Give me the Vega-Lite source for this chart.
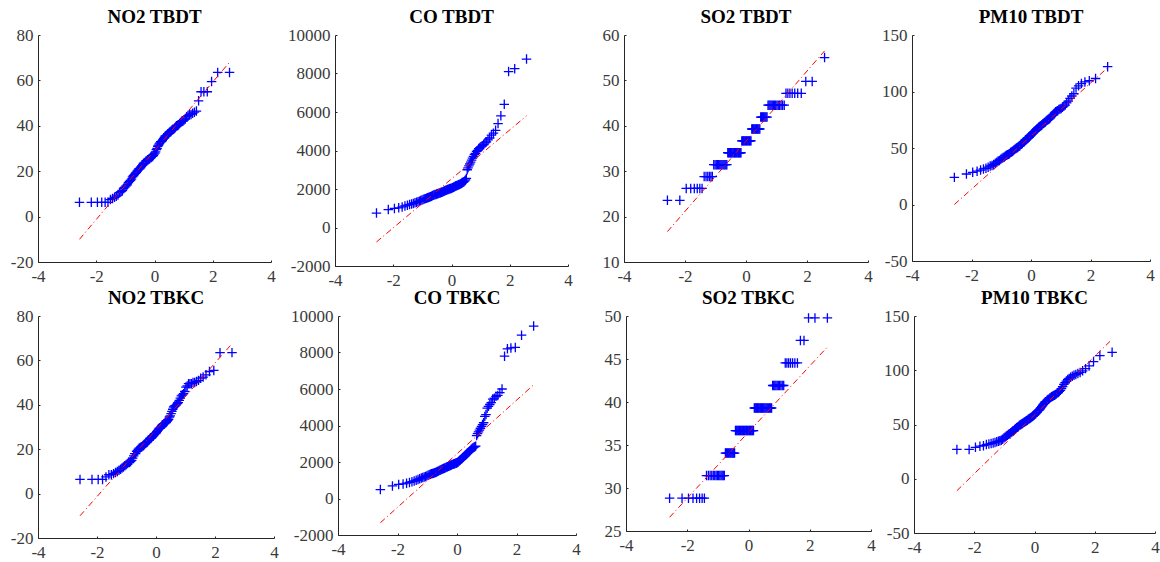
{
"$schema":"https://vega.github.io/schema/vega-lite/v6.json",
"background":"white",
"padding":{"left":0,"right":0,"top":8,"bottom":0},
"config":{
 "view":{"stroke":null},
 "font":"Liberation Serif",
 "style":{"guide-label":{"font":"Liberation Serif","fontSize":17,"fill":"#3a3a3a"}},
 "axis":{"grid":false,"domainColor":"#262626","domainWidth":1,"tickColor":"#262626","tickSize":-2,"labelFont":"Liberation Serif","labelFontSize":17,"labelColor":"#3a3a3a","labelFlush":false,"labelOverlap":false,"labelPadding":8,"title":null},
 "axisY":{"labelPadding":7},
 "title":{"font":"Liberation Serif","fontSize":19,"fontWeight":"bold","color":"#000000","frame":"group","anchor":"middle","offset":-1,"baseline":"alphabetic"}
},
"datasets":{
"NO2 TBDT":[{"x":-2.576,"y":6.3},{"x":-2.17,"y":6.3},{"x":-1.96,"y":6.3},{"x":-1.812,"y":6.3},{"x":-1.695,"y":6.3},{"x":-1.598,"y":6.3},{"x":-1.514,"y":7.5},{"x":-1.44,"y":8},{"x":-1.372,"y":8.5},{"x":-1.311,"y":9},{"x":-1.254,"y":9.5},{"x":-1.2,"y":10.5},{"x":-1.15,"y":11},{"x":-1.103,"y":11.5},{"x":-1.058,"y":12.5},{"x":-1.015,"y":13},{"x":-0.974,"y":13.5},{"x":-0.935,"y":14},{"x":-0.896,"y":15},{"x":-0.86,"y":15.5},{"x":-0.824,"y":16},{"x":-0.789,"y":16.5},{"x":-0.755,"y":17.5},{"x":-0.722,"y":18},{"x":-0.69,"y":18.5},{"x":-0.659,"y":19},{"x":-0.628,"y":19.5},{"x":-0.598,"y":20},{"x":-0.568,"y":20.5},{"x":-0.539,"y":21},{"x":-0.51,"y":21},{"x":-0.482,"y":21.5},{"x":-0.454,"y":22},{"x":-0.426,"y":22.5},{"x":-0.399,"y":23},{"x":-0.372,"y":23.5},{"x":-0.345,"y":23.5},{"x":-0.319,"y":24},{"x":-0.292,"y":24.5},{"x":-0.266,"y":24.5},{"x":-0.24,"y":25},{"x":-0.215,"y":25},{"x":-0.189,"y":25.5},{"x":-0.164,"y":25.5},{"x":-0.138,"y":26},{"x":-0.113,"y":26},{"x":-0.088,"y":26.5},{"x":-0.063,"y":26.5},{"x":-0.038,"y":27},{"x":-0.013,"y":27.5},{"x":0.013,"y":28},{"x":0.038,"y":28.5},{"x":0.063,"y":29.5},{"x":0.088,"y":30},{"x":0.113,"y":31},{"x":0.138,"y":31.5},{"x":0.164,"y":32},{"x":0.189,"y":32.5},{"x":0.215,"y":33},{"x":0.24,"y":33},{"x":0.266,"y":33.5},{"x":0.292,"y":34},{"x":0.319,"y":34.5},{"x":0.345,"y":35},{"x":0.372,"y":35.5},{"x":0.399,"y":35.5},{"x":0.426,"y":36},{"x":0.454,"y":36.5},{"x":0.482,"y":36.5},{"x":0.51,"y":37},{"x":0.539,"y":37.5},{"x":0.568,"y":37.5},{"x":0.598,"y":38},{"x":0.628,"y":38.5},{"x":0.659,"y":38.5},{"x":0.69,"y":39},{"x":0.722,"y":39.5},{"x":0.755,"y":40},{"x":0.789,"y":40},{"x":0.824,"y":40.5},{"x":0.86,"y":41},{"x":0.896,"y":41.5},{"x":0.935,"y":42},{"x":0.974,"y":42},{"x":1.015,"y":42.5},{"x":1.058,"y":43},{"x":1.103,"y":44},{"x":1.15,"y":44.5},{"x":1.2,"y":45},{"x":1.254,"y":45},{"x":1.311,"y":45.5},{"x":1.372,"y":46},{"x":1.44,"y":46.5},{"x":1.514,"y":51},{"x":1.598,"y":55},{"x":1.695,"y":55},{"x":1.812,"y":55},{"x":1.96,"y":59.5},{"x":2.17,"y":63.5},{"x":2.576,"y":63.5}],
"CO TBDT":[{"x":-2.576,"y":750},{"x":-2.17,"y":930},{"x":-1.96,"y":990},{"x":-1.812,"y":1020},{"x":-1.695,"y":1070},{"x":-1.598,"y":1120},{"x":-1.514,"y":1160},{"x":-1.44,"y":1190},{"x":-1.372,"y":1220},{"x":-1.311,"y":1250},{"x":-1.254,"y":1290},{"x":-1.2,"y":1310},{"x":-1.15,"y":1340},{"x":-1.103,"y":1370},{"x":-1.058,"y":1400},{"x":-1.015,"y":1430},{"x":-0.974,"y":1460},{"x":-0.935,"y":1480},{"x":-0.896,"y":1500},{"x":-0.86,"y":1520},{"x":-0.824,"y":1540},{"x":-0.789,"y":1560},{"x":-0.755,"y":1580},{"x":-0.722,"y":1600},{"x":-0.69,"y":1620},{"x":-0.659,"y":1650},{"x":-0.628,"y":1680},{"x":-0.598,"y":1690},{"x":-0.568,"y":1710},{"x":-0.539,"y":1720},{"x":-0.51,"y":1740},{"x":-0.482,"y":1750},{"x":-0.454,"y":1770},{"x":-0.426,"y":1780},{"x":-0.399,"y":1800},{"x":-0.372,"y":1810},{"x":-0.345,"y":1830},{"x":-0.319,"y":1850},{"x":-0.292,"y":1860},{"x":-0.266,"y":1880},{"x":-0.24,"y":1900},{"x":-0.215,"y":1920},{"x":-0.189,"y":1930},{"x":-0.164,"y":1950},{"x":-0.138,"y":1970},{"x":-0.113,"y":1980},{"x":-0.088,"y":2000},{"x":-0.063,"y":2010},{"x":-0.038,"y":2020},{"x":-0.013,"y":2030},{"x":0.013,"y":2050},{"x":0.038,"y":2070},{"x":0.063,"y":2090},{"x":0.088,"y":2110},{"x":0.113,"y":2130},{"x":0.138,"y":2150},{"x":0.164,"y":2165},{"x":0.189,"y":2180},{"x":0.215,"y":2200},{"x":0.24,"y":2215},{"x":0.266,"y":2230},{"x":0.292,"y":2250},{"x":0.319,"y":2270},{"x":0.345,"y":2300},{"x":0.372,"y":2320},{"x":0.399,"y":2350},{"x":0.426,"y":2380},{"x":0.454,"y":2420},{"x":0.482,"y":2470},{"x":0.51,"y":2550},{"x":0.539,"y":3000},{"x":0.568,"y":3100},{"x":0.598,"y":3200},{"x":0.628,"y":3300},{"x":0.659,"y":3400},{"x":0.69,"y":3500},{"x":0.722,"y":3600},{"x":0.755,"y":3700},{"x":0.789,"y":3800},{"x":0.824,"y":3850},{"x":0.86,"y":3950},{"x":0.896,"y":4000},{"x":0.935,"y":4100},{"x":0.974,"y":4150},{"x":1.015,"y":4200},{"x":1.058,"y":4250},{"x":1.103,"y":4300},{"x":1.15,"y":4400},{"x":1.2,"y":4450},{"x":1.254,"y":4550},{"x":1.311,"y":4650},{"x":1.372,"y":4800},{"x":1.44,"y":4900},{"x":1.514,"y":5050},{"x":1.598,"y":5400},{"x":1.695,"y":5800},{"x":1.812,"y":6400},{"x":1.96,"y":8100},{"x":2.17,"y":8250},{"x":2.576,"y":8750}],
"SO2 TBDT":[{"x":-2.576,"y":23.58},{"x":-2.17,"y":23.58},{"x":-1.96,"y":26.2},{"x":-1.812,"y":26.2},{"x":-1.695,"y":26.2},{"x":-1.598,"y":26.2},{"x":-1.514,"y":26.2},{"x":-1.44,"y":26.2},{"x":-1.372,"y":28.82},{"x":-1.311,"y":28.82},{"x":-1.254,"y":28.82},{"x":-1.2,"y":28.82},{"x":-1.15,"y":28.82},{"x":-1.103,"y":28.82},{"x":-1.058,"y":31.44},{"x":-1.015,"y":31.44},{"x":-0.974,"y":31.44},{"x":-0.935,"y":31.44},{"x":-0.896,"y":31.44},{"x":-0.86,"y":31.44},{"x":-0.824,"y":31.44},{"x":-0.789,"y":31.44},{"x":-0.755,"y":31.44},{"x":-0.722,"y":31.44},{"x":-0.69,"y":31.44},{"x":-0.659,"y":31.44},{"x":-0.628,"y":31.44},{"x":-0.598,"y":34.06},{"x":-0.568,"y":34.06},{"x":-0.539,"y":34.06},{"x":-0.51,"y":34.06},{"x":-0.482,"y":34.06},{"x":-0.454,"y":34.06},{"x":-0.426,"y":34.06},{"x":-0.399,"y":34.06},{"x":-0.372,"y":34.06},{"x":-0.345,"y":34.06},{"x":-0.319,"y":34.06},{"x":-0.292,"y":34.06},{"x":-0.266,"y":34.06},{"x":-0.24,"y":34.06},{"x":-0.215,"y":34.06},{"x":-0.189,"y":34.06},{"x":-0.164,"y":34.06},{"x":-0.138,"y":36.68},{"x":-0.113,"y":36.68},{"x":-0.088,"y":36.68},{"x":-0.063,"y":36.68},{"x":-0.038,"y":36.68},{"x":-0.013,"y":36.68},{"x":0.013,"y":36.68},{"x":0.038,"y":36.68},{"x":0.063,"y":36.68},{"x":0.088,"y":36.68},{"x":0.113,"y":36.68},{"x":0.138,"y":36.68},{"x":0.164,"y":36.68},{"x":0.189,"y":39.3},{"x":0.215,"y":39.3},{"x":0.24,"y":39.3},{"x":0.266,"y":39.3},{"x":0.292,"y":39.3},{"x":0.319,"y":39.3},{"x":0.345,"y":39.3},{"x":0.372,"y":39.3},{"x":0.399,"y":39.3},{"x":0.426,"y":39.3},{"x":0.454,"y":39.3},{"x":0.482,"y":41.92},{"x":0.51,"y":41.92},{"x":0.539,"y":41.92},{"x":0.568,"y":41.92},{"x":0.598,"y":41.92},{"x":0.628,"y":41.92},{"x":0.659,"y":41.92},{"x":0.69,"y":41.92},{"x":0.722,"y":44.54},{"x":0.755,"y":44.54},{"x":0.789,"y":44.54},{"x":0.824,"y":44.54},{"x":0.86,"y":44.54},{"x":0.896,"y":44.54},{"x":0.935,"y":44.54},{"x":0.974,"y":44.54},{"x":1.015,"y":44.54},{"x":1.058,"y":44.54},{"x":1.103,"y":44.54},{"x":1.15,"y":44.54},{"x":1.2,"y":44.54},{"x":1.254,"y":44.54},{"x":1.311,"y":47.16},{"x":1.372,"y":47.16},{"x":1.44,"y":47.16},{"x":1.514,"y":47.16},{"x":1.598,"y":47.16},{"x":1.695,"y":47.16},{"x":1.812,"y":47.16},{"x":1.96,"y":49.78},{"x":2.17,"y":49.78},{"x":2.576,"y":55.02}],
"PM10 TBDT":[{"x":-2.576,"y":24},{"x":-2.17,"y":27},{"x":-1.96,"y":28.5},{"x":-1.812,"y":29.5},{"x":-1.695,"y":30.5},{"x":-1.598,"y":31.5},{"x":-1.514,"y":32},{"x":-1.44,"y":33},{"x":-1.372,"y":34},{"x":-1.311,"y":34.5},{"x":-1.254,"y":35.5},{"x":-1.2,"y":36.5},{"x":-1.15,"y":37.5},{"x":-1.103,"y":38.5},{"x":-1.058,"y":39},{"x":-1.015,"y":40},{"x":-0.974,"y":41},{"x":-0.935,"y":41.5},{"x":-0.896,"y":42},{"x":-0.86,"y":43},{"x":-0.824,"y":43.5},{"x":-0.789,"y":44},{"x":-0.755,"y":44.5},{"x":-0.722,"y":45},{"x":-0.69,"y":46},{"x":-0.659,"y":46.5},{"x":-0.628,"y":47},{"x":-0.598,"y":47.5},{"x":-0.568,"y":48.5},{"x":-0.539,"y":49},{"x":-0.51,"y":49.5},{"x":-0.482,"y":50},{"x":-0.454,"y":50.5},{"x":-0.426,"y":51},{"x":-0.399,"y":51.5},{"x":-0.372,"y":52},{"x":-0.345,"y":53},{"x":-0.319,"y":53.5},{"x":-0.292,"y":54},{"x":-0.266,"y":55},{"x":-0.24,"y":55.5},{"x":-0.215,"y":56},{"x":-0.189,"y":57},{"x":-0.164,"y":57.5},{"x":-0.138,"y":58},{"x":-0.113,"y":58.5},{"x":-0.088,"y":59},{"x":-0.063,"y":59.5},{"x":-0.038,"y":60.5},{"x":-0.013,"y":61},{"x":0.013,"y":62},{"x":0.038,"y":62.5},{"x":0.063,"y":63.5},{"x":0.088,"y":64},{"x":0.113,"y":64.5},{"x":0.138,"y":65},{"x":0.164,"y":66},{"x":0.189,"y":66.5},{"x":0.215,"y":67},{"x":0.24,"y":68},{"x":0.266,"y":68.5},{"x":0.292,"y":69},{"x":0.319,"y":69.5},{"x":0.345,"y":70},{"x":0.372,"y":70.5},{"x":0.399,"y":71.5},{"x":0.426,"y":72},{"x":0.454,"y":72.5},{"x":0.482,"y":73},{"x":0.51,"y":74},{"x":0.539,"y":74.5},{"x":0.568,"y":75},{"x":0.598,"y":75.5},{"x":0.628,"y":76},{"x":0.659,"y":77},{"x":0.69,"y":78},{"x":0.722,"y":79},{"x":0.755,"y":80},{"x":0.789,"y":81},{"x":0.824,"y":82},{"x":0.86,"y":82.5},{"x":0.896,"y":83},{"x":0.935,"y":84},{"x":0.974,"y":84.5},{"x":1.015,"y":85},{"x":1.058,"y":86},{"x":1.103,"y":87},{"x":1.15,"y":88},{"x":1.2,"y":90},{"x":1.254,"y":91.5},{"x":1.311,"y":94},{"x":1.372,"y":96},{"x":1.44,"y":98},{"x":1.514,"y":103},{"x":1.598,"y":105},{"x":1.695,"y":107},{"x":1.812,"y":108.5},{"x":1.96,"y":109.5},{"x":2.17,"y":111.5},{"x":2.576,"y":122}],
"NO2 TBKC":[{"x":-2.576,"y":6.4},{"x":-2.17,"y":6.4},{"x":-1.96,"y":6.4},{"x":-1.812,"y":6.4},{"x":-1.695,"y":7.5},{"x":-1.598,"y":8.5},{"x":-1.514,"y":8.5},{"x":-1.44,"y":9},{"x":-1.372,"y":9.5},{"x":-1.311,"y":10},{"x":-1.254,"y":10.5},{"x":-1.2,"y":11},{"x":-1.15,"y":11.5},{"x":-1.103,"y":12},{"x":-1.058,"y":12.5},{"x":-1.015,"y":13},{"x":-0.974,"y":13.5},{"x":-0.935,"y":14},{"x":-0.896,"y":14},{"x":-0.86,"y":14.5},{"x":-0.824,"y":15},{"x":-0.789,"y":16},{"x":-0.755,"y":17},{"x":-0.722,"y":18},{"x":-0.69,"y":18},{"x":-0.659,"y":19},{"x":-0.628,"y":19.5},{"x":-0.598,"y":20},{"x":-0.568,"y":20.5},{"x":-0.539,"y":20.5},{"x":-0.51,"y":21},{"x":-0.482,"y":21},{"x":-0.454,"y":21.5},{"x":-0.426,"y":21.5},{"x":-0.399,"y":22},{"x":-0.372,"y":22.5},{"x":-0.345,"y":23},{"x":-0.319,"y":23},{"x":-0.292,"y":23.5},{"x":-0.266,"y":24},{"x":-0.24,"y":24},{"x":-0.215,"y":24.5},{"x":-0.189,"y":25},{"x":-0.164,"y":25},{"x":-0.138,"y":25.5},{"x":-0.113,"y":26},{"x":-0.088,"y":26},{"x":-0.063,"y":26.5},{"x":-0.038,"y":27},{"x":-0.013,"y":27},{"x":0.013,"y":27.5},{"x":0.038,"y":28},{"x":0.063,"y":28.5},{"x":0.088,"y":29},{"x":0.113,"y":29.5},{"x":0.138,"y":29.5},{"x":0.164,"y":30},{"x":0.189,"y":30.5},{"x":0.215,"y":31},{"x":0.24,"y":31},{"x":0.266,"y":31.5},{"x":0.292,"y":31.5},{"x":0.319,"y":32},{"x":0.345,"y":32},{"x":0.372,"y":32.5},{"x":0.399,"y":33},{"x":0.426,"y":33.5},{"x":0.454,"y":34.5},{"x":0.482,"y":35},{"x":0.51,"y":36},{"x":0.539,"y":37},{"x":0.568,"y":38},{"x":0.598,"y":39},{"x":0.628,"y":39.5},{"x":0.659,"y":39.5},{"x":0.69,"y":40},{"x":0.722,"y":40.5},{"x":0.755,"y":41},{"x":0.789,"y":42},{"x":0.824,"y":43},{"x":0.86,"y":44},{"x":0.896,"y":44.5},{"x":0.935,"y":45},{"x":0.974,"y":46},{"x":1.015,"y":48},{"x":1.058,"y":48.5},{"x":1.103,"y":49.5},{"x":1.15,"y":49.5},{"x":1.2,"y":49.5},{"x":1.254,"y":50},{"x":1.311,"y":50},{"x":1.372,"y":50.5},{"x":1.44,"y":51},{"x":1.514,"y":52},{"x":1.598,"y":52.5},{"x":1.695,"y":53.5},{"x":1.812,"y":55},{"x":1.96,"y":55.5},{"x":2.17,"y":63.5},{"x":2.576,"y":63.5}],
"CO TBKC":[{"x":-2.576,"y":490},{"x":-2.17,"y":690},{"x":-1.96,"y":770},{"x":-1.812,"y":800},{"x":-1.695,"y":840},{"x":-1.598,"y":880},{"x":-1.514,"y":920},{"x":-1.44,"y":960},{"x":-1.372,"y":1000},{"x":-1.311,"y":1040},{"x":-1.254,"y":1080},{"x":-1.2,"y":1120},{"x":-1.15,"y":1150},{"x":-1.103,"y":1180},{"x":-1.058,"y":1210},{"x":-1.015,"y":1240},{"x":-0.974,"y":1270},{"x":-0.935,"y":1300},{"x":-0.896,"y":1330},{"x":-0.86,"y":1350},{"x":-0.824,"y":1370},{"x":-0.789,"y":1390},{"x":-0.755,"y":1410},{"x":-0.722,"y":1430},{"x":-0.69,"y":1450},{"x":-0.659,"y":1480},{"x":-0.628,"y":1500},{"x":-0.598,"y":1530},{"x":-0.568,"y":1550},{"x":-0.539,"y":1580},{"x":-0.51,"y":1600},{"x":-0.482,"y":1620},{"x":-0.454,"y":1640},{"x":-0.426,"y":1660},{"x":-0.399,"y":1680},{"x":-0.372,"y":1700},{"x":-0.345,"y":1720},{"x":-0.319,"y":1740},{"x":-0.292,"y":1760},{"x":-0.266,"y":1780},{"x":-0.24,"y":1800},{"x":-0.215,"y":1820},{"x":-0.189,"y":1840},{"x":-0.164,"y":1860},{"x":-0.138,"y":1870},{"x":-0.113,"y":1890},{"x":-0.088,"y":1900},{"x":-0.063,"y":1920},{"x":-0.038,"y":1940},{"x":-0.013,"y":1950},{"x":0.013,"y":1970},{"x":0.038,"y":2000},{"x":0.063,"y":2040},{"x":0.088,"y":2080},{"x":0.113,"y":2110},{"x":0.138,"y":2150},{"x":0.164,"y":2190},{"x":0.189,"y":2230},{"x":0.215,"y":2270},{"x":0.24,"y":2310},{"x":0.266,"y":2350},{"x":0.292,"y":2390},{"x":0.319,"y":2430},{"x":0.345,"y":2470},{"x":0.372,"y":2510},{"x":0.399,"y":2550},{"x":0.426,"y":2600},{"x":0.454,"y":2650},{"x":0.482,"y":2700},{"x":0.51,"y":2740},{"x":0.539,"y":2780},{"x":0.568,"y":2810},{"x":0.598,"y":2840},{"x":0.628,"y":2870},{"x":0.659,"y":3450},{"x":0.69,"y":3550},{"x":0.722,"y":3650},{"x":0.755,"y":3750},{"x":0.789,"y":3850},{"x":0.824,"y":3950},{"x":0.86,"y":4050},{"x":0.896,"y":4150},{"x":0.935,"y":4500},{"x":0.974,"y":4600},{"x":1.015,"y":4950},{"x":1.058,"y":5050},{"x":1.103,"y":5150},{"x":1.15,"y":5250},{"x":1.2,"y":5450},{"x":1.254,"y":5500},{"x":1.311,"y":5600},{"x":1.372,"y":5650},{"x":1.44,"y":5800},{"x":1.514,"y":6000},{"x":1.598,"y":7800},{"x":1.695,"y":8200},{"x":1.812,"y":8250},{"x":1.96,"y":8280},{"x":2.17,"y":8950},{"x":2.576,"y":9450}],
"SO2 TBKC":[{"x":-2.576,"y":28.82},{"x":-2.17,"y":28.82},{"x":-1.96,"y":28.82},{"x":-1.812,"y":28.82},{"x":-1.695,"y":28.82},{"x":-1.598,"y":28.82},{"x":-1.514,"y":28.82},{"x":-1.44,"y":28.82},{"x":-1.372,"y":31.44},{"x":-1.311,"y":31.44},{"x":-1.254,"y":31.44},{"x":-1.2,"y":31.44},{"x":-1.15,"y":31.44},{"x":-1.103,"y":31.44},{"x":-1.058,"y":31.44},{"x":-1.015,"y":31.44},{"x":-0.974,"y":31.44},{"x":-0.935,"y":31.44},{"x":-0.896,"y":31.44},{"x":-0.86,"y":31.44},{"x":-0.824,"y":31.44},{"x":-0.789,"y":31.44},{"x":-0.755,"y":34.06},{"x":-0.722,"y":34.06},{"x":-0.69,"y":34.06},{"x":-0.659,"y":34.06},{"x":-0.628,"y":34.06},{"x":-0.598,"y":34.06},{"x":-0.568,"y":34.06},{"x":-0.539,"y":34.06},{"x":-0.51,"y":34.06},{"x":-0.482,"y":34.06},{"x":-0.454,"y":34.06},{"x":-0.426,"y":36.68},{"x":-0.399,"y":36.68},{"x":-0.372,"y":36.68},{"x":-0.345,"y":36.68},{"x":-0.319,"y":36.68},{"x":-0.292,"y":36.68},{"x":-0.266,"y":36.68},{"x":-0.24,"y":36.68},{"x":-0.215,"y":36.68},{"x":-0.189,"y":36.68},{"x":-0.164,"y":36.68},{"x":-0.138,"y":36.68},{"x":-0.113,"y":36.68},{"x":-0.088,"y":36.68},{"x":-0.063,"y":36.68},{"x":-0.038,"y":36.68},{"x":-0.013,"y":36.68},{"x":0.013,"y":36.68},{"x":0.038,"y":36.68},{"x":0.063,"y":36.68},{"x":0.088,"y":36.68},{"x":0.113,"y":36.68},{"x":0.138,"y":36.68},{"x":0.164,"y":36.68},{"x":0.189,"y":39.3},{"x":0.215,"y":39.3},{"x":0.24,"y":39.3},{"x":0.266,"y":39.3},{"x":0.292,"y":39.3},{"x":0.319,"y":39.3},{"x":0.345,"y":39.3},{"x":0.372,"y":39.3},{"x":0.399,"y":39.3},{"x":0.426,"y":39.3},{"x":0.454,"y":39.3},{"x":0.482,"y":39.3},{"x":0.51,"y":39.3},{"x":0.539,"y":39.3},{"x":0.568,"y":39.3},{"x":0.598,"y":39.3},{"x":0.628,"y":39.3},{"x":0.659,"y":39.3},{"x":0.69,"y":39.3},{"x":0.722,"y":39.3},{"x":0.755,"y":39.3},{"x":0.789,"y":41.92},{"x":0.824,"y":41.92},{"x":0.86,"y":41.92},{"x":0.896,"y":41.92},{"x":0.935,"y":41.92},{"x":0.974,"y":41.92},{"x":1.015,"y":41.92},{"x":1.058,"y":41.92},{"x":1.103,"y":41.92},{"x":1.15,"y":41.92},{"x":1.2,"y":44.54},{"x":1.254,"y":44.54},{"x":1.311,"y":44.54},{"x":1.372,"y":44.54},{"x":1.44,"y":44.54},{"x":1.514,"y":44.54},{"x":1.598,"y":44.54},{"x":1.695,"y":47.16},{"x":1.812,"y":47.16},{"x":1.96,"y":49.78},{"x":2.17,"y":49.78},{"x":2.576,"y":49.78}],
"PM10 TBKC":[{"x":-2.576,"y":27},{"x":-2.17,"y":27},{"x":-1.96,"y":29},{"x":-1.812,"y":30},{"x":-1.695,"y":30.5},{"x":-1.598,"y":31.5},{"x":-1.514,"y":32},{"x":-1.44,"y":32.5},{"x":-1.372,"y":33},{"x":-1.311,"y":33.5},{"x":-1.254,"y":34},{"x":-1.2,"y":34.5},{"x":-1.15,"y":35},{"x":-1.103,"y":35.5},{"x":-1.058,"y":36.5},{"x":-1.015,"y":37.5},{"x":-0.974,"y":38.5},{"x":-0.935,"y":39.5},{"x":-0.896,"y":40},{"x":-0.86,"y":41},{"x":-0.824,"y":41.5},{"x":-0.789,"y":42.5},{"x":-0.755,"y":43},{"x":-0.722,"y":44},{"x":-0.69,"y":44.5},{"x":-0.659,"y":45.5},{"x":-0.628,"y":46},{"x":-0.598,"y":47},{"x":-0.568,"y":47.5},{"x":-0.539,"y":48},{"x":-0.51,"y":49},{"x":-0.482,"y":49.5},{"x":-0.454,"y":50},{"x":-0.426,"y":50.5},{"x":-0.399,"y":51},{"x":-0.372,"y":51.5},{"x":-0.345,"y":52},{"x":-0.319,"y":52.5},{"x":-0.292,"y":53},{"x":-0.266,"y":53.5},{"x":-0.24,"y":54},{"x":-0.215,"y":54.5},{"x":-0.189,"y":55},{"x":-0.164,"y":55.5},{"x":-0.138,"y":56},{"x":-0.113,"y":56.5},{"x":-0.088,"y":57},{"x":-0.063,"y":57.5},{"x":-0.038,"y":58},{"x":-0.013,"y":58.5},{"x":0.013,"y":59.5},{"x":0.038,"y":60},{"x":0.063,"y":61},{"x":0.088,"y":61.5},{"x":0.113,"y":62.5},{"x":0.138,"y":63},{"x":0.164,"y":63.5},{"x":0.189,"y":64.5},{"x":0.215,"y":65.5},{"x":0.24,"y":66.5},{"x":0.266,"y":67.5},{"x":0.292,"y":68.5},{"x":0.319,"y":69.5},{"x":0.345,"y":70.5},{"x":0.372,"y":71},{"x":0.399,"y":71.5},{"x":0.426,"y":72.5},{"x":0.454,"y":73},{"x":0.482,"y":73.5},{"x":0.51,"y":74.5},{"x":0.539,"y":75},{"x":0.568,"y":75.5},{"x":0.598,"y":76},{"x":0.628,"y":76.5},{"x":0.659,"y":77},{"x":0.69,"y":77.5},{"x":0.722,"y":78},{"x":0.755,"y":79},{"x":0.789,"y":79.5},{"x":0.824,"y":80.5},{"x":0.86,"y":81.5},{"x":0.896,"y":83},{"x":0.935,"y":85},{"x":0.974,"y":87},{"x":1.015,"y":88.5},{"x":1.058,"y":90},{"x":1.103,"y":91.5},{"x":1.15,"y":92.5},{"x":1.2,"y":93.5},{"x":1.254,"y":94.5},{"x":1.311,"y":95.5},{"x":1.372,"y":96},{"x":1.44,"y":97},{"x":1.514,"y":98},{"x":1.598,"y":99.5},{"x":1.695,"y":101.5},{"x":1.812,"y":104},{"x":1.96,"y":108},{"x":2.17,"y":113.5},{"x":2.576,"y":116.5}],
"ref":[{"p":"NO2 TBDT","x":-2.576,"y":-10},{"p":"NO2 TBDT","x":2.576,"y":68},{"p":"CO TBDT","x":-2.576,"y":-750},{"p":"CO TBDT","x":2.576,"y":5800},{"p":"SO2 TBDT","x":-2.576,"y":16.7},{"p":"SO2 TBDT","x":2.576,"y":56.5},{"p":"PM10 TBDT","x":-2.576,"y":0},{"p":"PM10 TBDT","x":2.576,"y":121},{"p":"NO2 TBKC","x":-2.576,"y":-10},{"p":"NO2 TBKC","x":2.576,"y":67.5},{"p":"CO TBKC","x":-2.576,"y":-1330},{"p":"CO TBKC","x":2.576,"y":6230},{"p":"SO2 TBKC","x":-2.576,"y":26.6},{"p":"SO2 TBKC","x":2.576,"y":46.4},{"p":"PM10 TBKC","x":-2.576,"y":-11},{"p":"PM10 TBKC","x":2.576,"y":128.5}]
},
"spacing":1,
"vconcat":[
{"spacing":0,"hconcat":[
 {"title":"NO2 TBDT","width":233,"height":227,
  "encoding":{"x":{"field":"x","type":"quantitative","scale":{"domain":[-4,4],"nice":false},"axis":{"values":[-4,-2,0,2,4],"title":null,"labelExpr":"''+datum.value","labelFont":"Liberation Serif","labelFontSize":17}},"y":{"field":"y","type":"quantitative","scale":{"domain":[-20,80],"nice":false,"zero":false},"axis":{"values":[-20,0,20,40,60,80],"title":null,"labelExpr":"''+datum.value","labelFont":"Liberation Serif","labelFontSize":17,"minExtent":38,"maxExtent":38}}},
  "layer":[
   {"data":{"name":"NO2 TBDT"},"mark":{"type":"point","shape":"M-1,0H1M0,-1V1","filled":false,"color":"#0000ff","strokeWidth":1.3,"size":90,"opacity":1}},
   {"data":{"name":"ref"},"transform":[{"filter":"datum.p === 'NO2 TBDT'"}],"mark":{"type":"line","color":"#ff0000","strokeWidth":1,"strokeDash":[6,3,1,3]},"encoding":{}}
  ]},
 {"title":"CO TBDT","width":233,"height":231,
  "encoding":{"x":{"field":"x","type":"quantitative","scale":{"domain":[-4,4],"nice":false},"axis":{"values":[-4,-2,0,2,4],"title":null,"labelExpr":"''+datum.value","labelFont":"Liberation Serif","labelFontSize":17}},"y":{"field":"y","type":"quantitative","scale":{"domain":[-2000,10000],"nice":false,"zero":false},"axis":{"values":[-2000,0,2000,4000,6000,8000,10000],"title":null,"labelExpr":"''+datum.value","labelFont":"Liberation Serif","labelFontSize":17,"minExtent":58.75,"maxExtent":58.75}}},
  "layer":[
   {"data":{"name":"CO TBDT"},"mark":{"type":"point","shape":"M-1,0H1M0,-1V1","filled":false,"color":"#0000ff","strokeWidth":1.3,"size":90,"opacity":1}},
   {"data":{"name":"ref"},"transform":[{"filter":"datum.p === 'CO TBDT'"}],"mark":{"type":"line","color":"#ff0000","strokeWidth":1,"strokeDash":[6,3,1,3]},"encoding":{}}
  ]},
 {"title":"SO2 TBDT","width":244,"height":227,
  "encoding":{"x":{"field":"x","type":"quantitative","scale":{"domain":[-4,4],"nice":false},"axis":{"values":[-4,-2,0,2,4],"title":null,"labelExpr":"''+datum.value","labelFont":"Liberation Serif","labelFontSize":17}},"y":{"field":"y","type":"quantitative","scale":{"domain":[10,60],"nice":false,"zero":false},"axis":{"values":[10,20,30,40,50,60],"title":null,"labelExpr":"''+datum.value","labelFont":"Liberation Serif","labelFontSize":17,"minExtent":50.75,"maxExtent":50.75}}},
  "layer":[
   {"data":{"name":"SO2 TBDT"},"mark":{"type":"point","shape":"M-1,0H1M0,-1V1","filled":false,"color":"#0000ff","strokeWidth":1.3,"size":90,"opacity":1}},
   {"data":{"name":"ref"},"transform":[{"filter":"datum.p === 'SO2 TBDT'"}],"mark":{"type":"line","color":"#ff0000","strokeWidth":1,"strokeDash":[6,3,1,3]},"encoding":{}}
  ]},
 {"title":"PM10 TBDT","width":238,"height":226,
  "encoding":{"x":{"field":"x","type":"quantitative","scale":{"domain":[-4,4],"nice":false},"axis":{"values":[-4,-2,0,2,4],"title":null,"labelExpr":"''+datum.value","labelFont":"Liberation Serif","labelFontSize":17}},"y":{"field":"y","type":"quantitative","scale":{"domain":[-50,150],"nice":false,"zero":false},"axis":{"values":[-50,0,50,100,150],"title":null,"labelExpr":"''+datum.value","labelFont":"Liberation Serif","labelFontSize":17,"minExtent":38.75,"maxExtent":38.75}}},
  "layer":[
   {"data":{"name":"PM10 TBDT"},"mark":{"type":"point","shape":"M-1,0H1M0,-1V1","filled":false,"color":"#0000ff","strokeWidth":1.3,"size":90,"opacity":1}},
   {"data":{"name":"ref"},"transform":[{"filter":"datum.p === 'PM10 TBDT'"}],"mark":{"type":"line","color":"#ff0000","strokeWidth":1,"strokeDash":[6,3,1,3]},"encoding":{}}
  ]}
]},
{"spacing":0,"hconcat":[
 {"title":"NO2 TBKC","width":236,"height":222,
  "encoding":{"x":{"field":"x","type":"quantitative","scale":{"domain":[-4,4],"nice":false},"axis":{"values":[-4,-2,0,2,4],"title":null,"labelExpr":"''+datum.value","labelFont":"Liberation Serif","labelFontSize":17}},"y":{"field":"y","type":"quantitative","scale":{"domain":[-20,80],"nice":false,"zero":false},"axis":{"values":[-20,0,20,40,60,80],"title":null,"labelExpr":"''+datum.value","labelFont":"Liberation Serif","labelFontSize":17,"minExtent":36,"maxExtent":36}}},
  "layer":[
   {"data":{"name":"NO2 TBKC"},"mark":{"type":"point","shape":"M-1,0H1M0,-1V1","filled":false,"color":"#0000ff","strokeWidth":1.3,"size":90,"opacity":1}},
   {"data":{"name":"ref"},"transform":[{"filter":"datum.p === 'NO2 TBKC'"}],"mark":{"type":"line","color":"#ff0000","strokeWidth":1,"strokeDash":[6,3,1,3]},"encoding":{}}
  ]},
 {"title":"CO TBKC","width":238,"height":219,
  "encoding":{"x":{"field":"x","type":"quantitative","scale":{"domain":[-4,4],"nice":false},"axis":{"values":[-4,-2,0,2,4],"title":null,"labelExpr":"''+datum.value","labelFont":"Liberation Serif","labelFontSize":17}},"y":{"field":"y","type":"quantitative","scale":{"domain":[-2000,10000],"nice":false,"zero":false},"axis":{"values":[-2000,0,2000,4000,6000,8000,10000],"title":null,"labelExpr":"''+datum.value","labelFont":"Liberation Serif","labelFontSize":17,"minExtent":58.75,"maxExtent":58.75}}},
  "layer":[
   {"data":{"name":"CO TBKC"},"mark":{"type":"point","shape":"M-1,0H1M0,-1V1","filled":false,"color":"#0000ff","strokeWidth":1.3,"size":90,"opacity":1}},
   {"data":{"name":"ref"},"transform":[{"filter":"datum.p === 'CO TBKC'"}],"mark":{"type":"line","color":"#ff0000","strokeWidth":1,"strokeDash":[6,3,1,3]},"encoding":{}}
  ]},
 {"title":"SO2 TBKC","width":245,"height":215,
  "encoding":{"x":{"field":"x","type":"quantitative","scale":{"domain":[-4,4],"nice":false},"axis":{"values":[-4,-2,0,2,4],"title":null,"labelExpr":"''+datum.value","labelFont":"Liberation Serif","labelFontSize":17}},"y":{"field":"y","type":"quantitative","scale":{"domain":[25,50],"nice":false,"zero":false},"axis":{"values":[25,30,35,40,45,50],"title":null,"labelExpr":"''+datum.value","labelFont":"Liberation Serif","labelFontSize":17,"minExtent":44.75,"maxExtent":44.75}}},
  "layer":[
   {"data":{"name":"SO2 TBKC"},"mark":{"type":"point","shape":"M-1,0H1M0,-1V1","filled":false,"color":"#0000ff","strokeWidth":1.3,"size":90,"opacity":1}},
   {"data":{"name":"ref"},"transform":[{"filter":"datum.p === 'SO2 TBKC'"}],"mark":{"type":"line","color":"#ff0000","strokeWidth":1,"strokeDash":[6,3,1,3]},"encoding":{}}
  ]},
 {"title":"PM10 TBKC","width":241,"height":217,
  "encoding":{"x":{"field":"x","type":"quantitative","scale":{"domain":[-4,4],"nice":false},"axis":{"values":[-4,-2,0,2,4],"title":null,"labelExpr":"''+datum.value","labelFont":"Liberation Serif","labelFontSize":17}},"y":{"field":"y","type":"quantitative","scale":{"domain":[-50,150],"nice":false,"zero":false},"axis":{"values":[-50,0,50,100,150],"title":null,"labelExpr":"''+datum.value","labelFont":"Liberation Serif","labelFontSize":17,"minExtent":37.75,"maxExtent":37.75}}},
  "layer":[
   {"data":{"name":"PM10 TBKC"},"mark":{"type":"point","shape":"M-1,0H1M0,-1V1","filled":false,"color":"#0000ff","strokeWidth":1.3,"size":90,"opacity":1}},
   {"data":{"name":"ref"},"transform":[{"filter":"datum.p === 'PM10 TBKC'"}],"mark":{"type":"line","color":"#ff0000","strokeWidth":1,"strokeDash":[6,3,1,3]},"encoding":{}}
  ]}
]}
]
}
